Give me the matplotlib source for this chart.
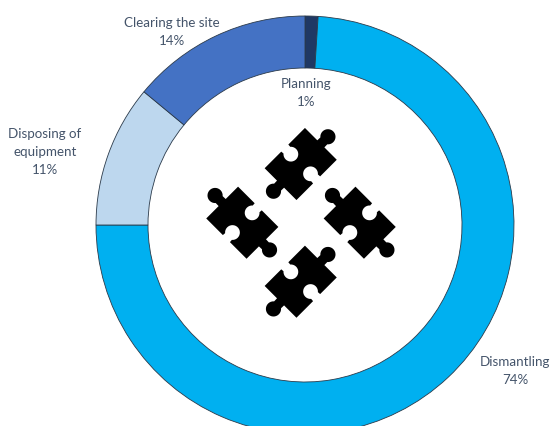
import numpy as np
import matplotlib
matplotlib.use('Agg')
import matplotlib.pyplot as plt
from matplotlib.patches import Polygon

# 项目阶段及占比（%），从12点钟方向顺时针排列
stages = ['Planning', 'Dismantling', 'Disposing of\nequipment', 'Clearing the site']
shares = [1, 74, 11, 14]
colors = ['#1F3864', '#00B0F0', '#BDD7EE', '#4472C4']

W, H = 550, 426
cx, cy = 305, H - 225
radius = 209
ring = 52

plt.rcParams['font.family'] = ['Lato', 'DejaVu Sans']

fig = plt.figure(figsize=(W / 100, H / 100), dpi=100)
ax = fig.add_axes([0, 0, 1, 1])

ax.pie(shares, colors=colors, startangle=90, counterclock=False,
       center=(cx, cy), radius=radius, frame=True,
       wedgeprops={'width': ring, 'edgecolor': '#2B3A4A', 'linewidth': 0.6})
ax.set_xlim(0, W)
ax.set_ylim(0, H)
ax.set_aspect('equal')
ax.axis('off')

# 标签位置（像素）
label_pos = [(306, 93), (515, 371), (45, 152), (172, 32)]
for name, share, (x, y) in zip(stages, shares, label_pos):
    ax.text(x, H - y, f'{name}\n{share}%', ha='center', va='center',
            fontsize=9.6, color='#44546A', linespacing=1.55)


def arc(c, r, a0, a1, n=24):
    t = np.radians(np.linspace(a0, a1, n))
    return np.column_stack([c[0] + r * np.cos(t), c[1] + r * np.sin(t)])


def puzzle_outline():
    """拼图块轮廓：长边两端各一个凸头，短边方向各一个凹口"""
    hu, hv = 28.5, 22.5     # 半长、半宽
    knob_r, notch_r = 7.6, 7.4
    knob_d, notch_d = 10.0, 8.6
    neck = 5.0
    pts = [
        [[-hu, -hv], [-neck, -hv]],
        arc((0, -hv + notch_d), notch_r, 230, -50),     # 下边凹口
        [[neck, -hv], [hu, -hv], [hu, -neck]],
        arc((hu + knob_d, 0), knob_r, -140, 140),       # 右端凸头
        [[hu, neck], [hu, hv], [neck, hv]],
        arc((0, hv - notch_d), notch_r, 50, -230),      # 上边凹口
        [[-neck, hv], [-hu, hv], [-hu, neck]],
        arc((-hu - knob_d, 0), knob_r, 40, 320),        # 左端凸头
        [[-hu, -neck]],
    ]
    return np.vstack(pts)


piece = puzzle_outline()

# 四块拼图的中心（像素）及旋转角度
piece_centers = [(300.7, 164), (242.3, 222.7), (359.7, 222.7), (300.7, 281.7)]
piece_angles = [45, -45, -45, 45]
for (px, py), ang in zip(piece_centers, piece_angles):
    t = np.radians(ang)
    rot = np.array([[np.cos(t), -np.sin(t)], [np.sin(t), np.cos(t)]])
    xy = piece @ rot.T + [px, H - py]
    ax.add_patch(Polygon(xy, closed=True, facecolor='black', edgecolor='none', zorder=5))

fig.savefig('out.png', dpi=100)
